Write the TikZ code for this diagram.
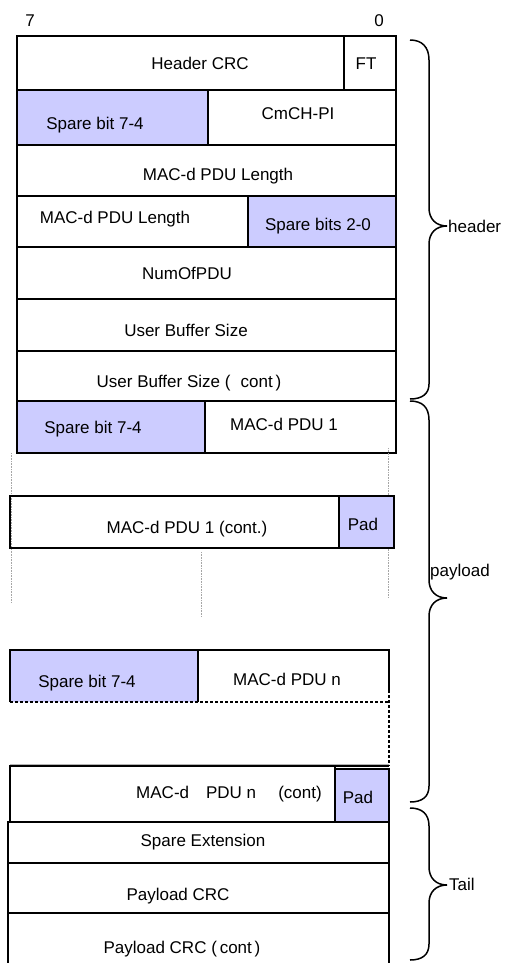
\documentclass[tikz,border=0pt]{standalone}
\usepackage{fontspec}
\setmainfont{Liberation Sans}
\definecolor{sparecol}{RGB}{204,204,255}
\tikzset{
  cell/.style={draw=black, line width=1.4pt},
  sparecell/.style={cell, fill=sparecol},
  txt/.style={anchor=base, inner sep=0pt, font=\fontsize{17}{20}\selectfont},
  lbl/.style={anchor=base west, inner sep=0pt, font=\fontsize{17}{20}\selectfont},
  gapline/.style={draw=gray!70, line width=0.6pt, densely dotted},
  cutline/.style={draw=black, line width=1.6pt, dash pattern=on 3pt off 2pt},
  bracestyle/.style={draw=black, line width=1.5pt}
}
\begin{document}
\begin{tikzpicture}[x=1pt,y=-1pt]
\useasboundingbox (0,0) rectangle (510,963);
\clip (0,0) rectangle (510,963);
% bit labels
\node[txt] (b7) at (30,27) {7};
\node[txt] (b0) at (379,27) {0};
% header rows
\draw[cell] (17,36) rectangle (396,90);
\draw[cell] (344,36) -- (344,90);
\draw[sparecell] (17,90) rectangle (208,145);
\draw[cell] (208,90) rectangle (396,145);
\draw[cell] (17,145) rectangle (396,196);
\draw[cell] (17,196) rectangle (248,247);
\draw[sparecell] (248,196) rectangle (396,247);
\draw[cell] (17,247) rectangle (396,299);
\draw[cell] (17,299) rectangle (396,351);
\draw[cell] (17,351) rectangle (396,401);
\draw[sparecell] (17,401) rectangle (205,453);
\draw[cell] (205,401) rectangle (396,453);
\node[txt] (hcrc) at (200,70) {Header CRC};
\node[txt] (ft) at (366,70) {FT};
\node[txt] (sp1) at (95,130) {Spare bit 7-4};
\node[txt] (cmch) at (298,120) {CmCH-PI};
\node[txt] (len1) at (218,180) {MAC-d PDU Length};
\node[txt] (len2) at (115,223) {MAC-d PDU Length};
\node[txt] (sp20) at (318,230) {Spare bits 2-0};
\node[txt] (num) at (187,279) {NumOfPDU};
\node[txt] (ubs) at (186,336) {User Buffer Size};
\node[txt] (ubsc) at (189,387) {User Buffer Size (\hspace{0.6em}cont\,)};
\node[txt] (sp2) at (93,433) {Spare bit 7-4};
\node[txt] (pdu1) at (284,430) {MAC-d PDU 1};
% gap lines
\draw[gapline] (11,453) -- (11,602);
\draw[gapline] (388,448) -- (388,598);
\draw[gapline] (201,552) -- (201,617);
% PDU 1 cont
\draw[cell] (10,496) rectangle (339,548);
\draw[sparecell] (339,496) rectangle (394,548);
\node[txt] (pdu1c) at (187,533) {MAC-d PDU 1 (cont.)};
\node[txt] (pad1) at (363,530) {Pad};
% PDU n
\fill[sparecol] (10,650) rectangle (198,702);
\draw[cell] (10,702) -- (10,650) -- (389,650) -- (389,690);
\draw[cell] (198,650) -- (198,702);
\node[txt] (sp3) at (87,687) {Spare bit 7-4};
\node[txt] (pdun) at (287,685) {MAC-d PDU n};
\draw[draw=gray!60, line width=0.6pt] (10,764) -- (389,764);
\draw[cutline] (10,702) -- (389,702);
\draw[cutline] (389,690) -- (389,766);
% PDU n cont
\draw[cell] (10,766) rectangle (335,822);
\draw[sparecell] (335,769) rectangle (389,822);
\draw[cell] (335,766) -- (389,766);
\node[txt] (pdunc) at (229,798) {MAC-d\hspace{1em}PDU n\hspace{1.3em}(cont)};
\node[txt] (pad2) at (358,803) {Pad};
% tail
\draw[cell] (8,822) rectangle (389,863);
\draw[cell] (8,863) rectangle (389,913);
\draw[cell] (8,913) rectangle (389,970);
\node[txt] (spext) at (203,846) {Spare Extension};
\node[txt] (pcrc) at (178,900) {Payload CRC};
\node[txt] (pcrcc) at (182,953) {Payload CRC (\,cont\,)};
% braces
\draw[bracestyle] (410,40) .. controls (422,40) and (429,47) .. (429,60) -- (429,208)
  .. controls (429,219) and (436,226) .. (447,226)
  .. controls (436,226) and (429,233) .. (429,244) -- (429,384)
  .. controls (429,394) and (422,399) .. (410,399);
\draw[bracestyle] (410,401) .. controls (422,401) and (429,407) .. (429,420) -- (429,580)
  .. controls (429,591) and (436,598) .. (447,598)
  .. controls (436,598) and (429,605) .. (429,616) -- (429,786)
  .. controls (429,797) and (422,802) .. (410,802);
\draw[bracestyle] (410,808) .. controls (422,808) and (429,814) .. (429,826) -- (429,867)
  .. controls (429,878) and (436,885) .. (447,885)
  .. controls (436,885) and (429,892) .. (429,903) -- (429,944)
  .. controls (429,955) and (422,960) .. (410,960);
\node[lbl] (hdr) at (448,232) {header};
\node[lbl] (pay) at (430,576) {payload};
\node[lbl] (tail) at (449,890) {Tail};
\end{tikzpicture}
\end{document}
